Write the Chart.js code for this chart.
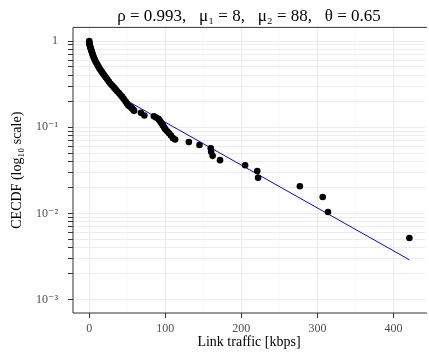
<!DOCTYPE html>
<html>
<head>
<meta charset="utf-8">
<script src="https://cdn.jsdelivr.net/npm/chart.js@4.4.1/dist/chart.umd.min.js"></script>
<style>
  html, body { margin: 0; padding: 0; background: #fff; }
  #cecdfChart { display: block; }
</style>
</head>
<body>
<canvas id="cecdfChart" width="429" height="352"></canvas>
<script>
const trafficKbps = [
  0, 0, 0.3, 0.6, 1.0, 1.5, 2.0, 2.6, 3.2, 3.8, 4.5, 5.3, 6.2, 7.2, 8.3, 9.5,
  10.8, 12.2, 13.6, 15.0, 16.5, 18.0, 19.8, 21.7, 23.7, 25.8, 28.0, 30.3, 32.5,
  34.7, 36.8, 39.0, 41.2, 43.4, 45.5, 47.7, 49.5, 51.3, 53, 55, 56.5, 58, 59,
  68, 72.5, 85, 88, 91, 92.5, 94, 95.5, 97, 98.5, 100, 102.5, 105, 107.5, 110,
  113, 131, 145, 159.8, 160.3, 162.3, 172, 205, 221, 222, 277, 307, 314, 421
];
const cecdf = [
  1.0, 0.97, 0.94, 0.91, 0.88, 0.85, 0.82, 0.79, 0.76, 0.73, 0.70, 0.67, 0.64,
  0.61, 0.58, 0.555, 0.53, 0.505, 0.48, 0.46, 0.44, 0.42, 0.40, 0.38, 0.36,
  0.34, 0.32, 0.305, 0.29, 0.275, 0.262, 0.25, 0.237, 0.225, 0.213, 0.20, 0.19,
  0.18, 0.175, 0.17, 0.165, 0.16, 0.155, 0.147, 0.137, 0.134, 0.13, 0.125,
  0.12, 0.115, 0.11, 0.105, 0.1, 0.095, 0.09, 0.085, 0.08, 0.075, 0.072,
  0.0674, 0.0622, 0.057, 0.0518, 0.0466, 0.0415, 0.0363, 0.0311, 0.0259,
  0.0207, 0.0155, 0.0104, 0.0052
];

// Fitted exponential tail (straight on the log axis)
const fitTrafficKbps = [48.5, 421];
const fitCecdf = [0.206, 0.0029];

// Axis ticks
const xTickValues = [0, 50, 100, 150, 200, 250, 300, 350, 400];
const xTickLabels = ['0', '', '100', '', '200', '', '300', '', '400'];
const yDecades = [0.001, 0.01, 0.1, 1];
const yDecadeLabels = ['10\u207B\u00B3', '10\u207B\u00B2', '10\u207B\u00B9', '1'];
const yMinorSteps = [2, 3, 4, 5, 6, 7, 8, 9];

const SERIF = "'Liberation Serif', 'DejaVu Serif', serif";

document.addEventListener('DOMContentLoaded', function() {
  renderCecdfChart();
});

/**
 * Build the log-axis tick list: every decade plus 2..9 within it
 */
function buildLogTicks() {
  const ticks = [];
  yDecades.forEach((decade, i) => {
    ticks.push({ value: decade, label: yDecadeLabels[i] });
    if (i < yDecades.length - 1) {
      yMinorSteps.forEach(step => {
        ticks.push({ value: +(decade * step).toPrecision(3), label: '' });
      });
    }
  });
  return ticks;
}

/**
 * Draw the left, top and bottom panel border
 */
const panelBorder = {
  id: 'panelBorder',
  afterDatasetsDraw(chart) {
    const { ctx, chartArea: a } = chart;
    ctx.save();
    ctx.strokeStyle = '#333333';
    ctx.lineWidth = 1;
    ctx.beginPath();
    ctx.moveTo(a.right + 2, a.top);
    ctx.lineTo(a.left, a.top);
    ctx.lineTo(a.left, a.bottom);
    ctx.lineTo(a.right + 2, a.bottom);
    ctx.stroke();
    ctx.restore();
  }
};

/**
 * Render the CECDF scatter with the fitted line
 */
function renderCecdfChart() {
  const ctx = document.getElementById('cecdfChart');
  if (!ctx) return;

  const yTicks = buildLogTicks();
  const points = trafficKbps.map((x, i) => ({ x: x, y: cecdf[i] }));
  const fitLine = fitTrafficKbps.map((x, i) => ({ x: x, y: fitCecdf[i] }));

  new Chart(ctx, {
    type: 'scatter',
    data: {
      datasets: [
        {
          label: 'CECDF',
          data: points,
          pointRadius: 3.3,
          pointBackgroundColor: '#000000',
          pointBorderWidth: 0,
          order: 1
        },
        {
          label: 'Fit',
          type: 'line',
          data: fitLine,
          borderColor: '#0000ff',
          borderWidth: 1,
          pointRadius: 0,
          fill: false,
          order: 2
        }
      ]
    },
    options: {
      responsive: false,
      animation: false,
      layout: { padding: 0 },
      scales: {
        x: {
          type: 'linear',
          min: -21.3,
          max: 441.5,
          afterBuildTicks: scale => {
            scale.ticks = xTickValues.map(v => ({ value: v }));
          },
          afterFit: scale => { scale.height = 39; },
          ticks: {
            autoSkip: false,
            maxRotation: 0,
            padding: 4,
            color: '#4d4d4d',
            font: { family: SERIF, size: 12 },
            callback: (value, index) => xTickLabels[index]
          },
          grid: {
            color: c => (c.tick && c.tick.value % 100 === 0) ? '#ebebeb' : '#f5f5f5',
            lineWidth: c => (c.tick && c.tick.value % 100 === 0) ? 1.1 : 0.6,
            tickColor: c => (c.tick && c.tick.value % 100 === 0) ? '#333333' : 'rgba(0,0,0,0)',
            tickLength: 5,
            tickWidth: 1
          },
          border: { display: false },
          title: {
            display: true,
            text: 'Link traffic [kbps]',
            color: '#000000',
            font: { family: SERIF, size: 14 },
            padding: { top: 0, bottom: 1 }
          }
        },
        y: {
          type: 'logarithmic',
          min: 0.0007,
          max: 1.44,
          afterBuildTicks: scale => {
            scale.ticks = yTicks.map(t => ({ value: t.value }));
          },
          afterFit: scale => { scale.width = 73; },
          ticks: {
            autoSkip: false,
            padding: 10,
            color: '#4d4d4d',
            font: { family: SERIF, size: 12 },
            callback: (value, index) => yTicks[index].label
          },
          grid: {
            color: '#ebebeb',
            lineWidth: 0.9,
            tickColor: '#333333',
            tickLength: 5,
            tickWidth: 1
          },
          border: { display: false },
          title: {
            display: true,
            text: 'CECDF (log\u2081\u2080 scale)',
            color: '#000000',
            font: { family: SERIF, size: 14 },
            padding: { top: 9, bottom: 0 }
          }
        }
      },
      plugins: {
        legend: { display: false },
        tooltip: { enabled: false },
        title: {
          display: true,
          fullSize: false,
          text: '\u03C1 = 0.993,   \u03BC\u2081 = 8,   \u03BC\u2082 = 88,   \u03B8 = 0.65',
          color: '#000000',
          font: { family: SERIF, size: 17, weight: 'normal' },
          padding: { top: 6, bottom: 1 }
        }
      }
    },
    plugins: [panelBorder]
  });
}
</script>
</body>
</html>
